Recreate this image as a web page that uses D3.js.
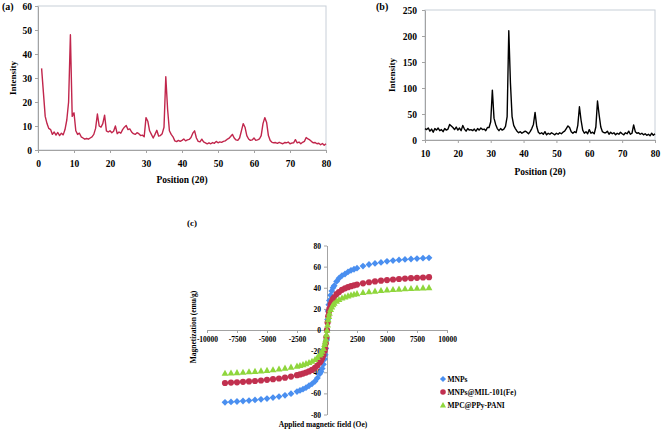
<!DOCTYPE html>
<html><head><meta charset="utf-8">
<script src="https://cdn.jsdelivr.net/npm/d3@7"></script>
<style>
body{margin:0;background:#fff}
svg{display:block}
text{font-family:"Liberation Serif","Times New Roman",serif;font-weight:bold;fill:#000}
</style>
</head><body>
<svg id="chart" width="661" height="430"></svg>
<script>
// ---------- Panel (a): XRD, MIL-101(Fe) composite ----------
const posA = d3.range(1, 80.001, 0.5); // 2θ sampling grid
const intA = [
  34,24,14,11,9,8.5,6.5,7.5,6.2,7.3,
  6,7,6.3,8.5,12.5,20,48,14,15.5,8,
  6.5,7,5.5,5,4.5,4.8,4.5,5,5.5,6.5,
  9,15,10,9.5,11,14.5,8,7.5,8,7.2,
  7.8,10,6.8,7.5,7,8.5,9.5,10.2,8.5,8.8,
  7.5,6.8,6.5,7.2,6.8,6,6.2,5.5,13.5,12,
  8,6.5,5,6.5,8.2,5.8,6,6.8,9.5,30.5,
  17,8,6.5,5.5,3.8,3.5,4,3.6,4,4.6,
  3.8,4.2,4.4,5.2,7,8,5,3.6,3.4,4.5,
  3.4,3,2.6,3,2.6,3.1,2.8,3.6,3,3.4,
  3.2,3.6,3.8,4.4,4.8,5.6,6.5,5,4.2,4,
  5,8,11,9.5,6,4.6,4,4.2,5,4,
  4.2,4.6,6,11,13.5,11.5,6,4,3.2,3,
  3.1,2.8,3.2,2.9,2.6,3.1,3,3.3,2.6,2.9,
  3,4.3,3,3.3,2.6,3.2,3.6,5.2,4.6,4.2,
  3.5,3,3.1,2.6,2.8,2.2,2.7,2,2.6
];
const xTicksA = [0,10,20,30,40,50,60,70,80];
const yTicksA = [0,10,20,30,40,50,60];

// ---------- Panel (b): XRD, Fe3O4 ----------
const posB = d3.range(10, 80.001, 0.5);
const intB = [
  22,20,23,17,21,15,22,19,23,18,
  20,16,22,19,21,30,27,24,20,25,
  19,23,18,28,21,17,22,19,20,18,
  21,17,22,19,23,20,21,18,24,24,
  35,96,42,30,22,18,22,19,21,26,
  45,210,110,45,28,22,17,14,16,13,
  15,17,15,12,16,22,30,53,26,15,
  12,14,11,16,10,13,11,14,12,10,
  13,11,14,12,15,17,22,27,24,16,
  13,16,14,28,64,38,19,13,16,12,
  20,13,15,12,25,75,48,25,16,14,
  14,17,11,15,12,14,10,13,11,15,
  12,10,14,12,17,11,13,29,16,13,
  14,11,13,10,12,9,11,8,13,9,
  12
];
const xTicksB = [10,20,30,40,50,60,70,80];
const yTicksB = [0,50,100,150,200,250];

// ---------- Panel (c): magnetization curves ----------
const fieldOe = [-8500,-8000,-7500,-7000,-6500,-6000,-5500,-5000,-4500,-4000,-3500,-3000,
  -2500,-2250,-2000,-1750,-1500,-1250,-1000,-800,-600,-500,-400,-300,-200,-150,-100,-50,
  0,
  50,100,150,200,300,400,500,600,800,1000,1250,1500,1750,2000,2250,2500,
  3000,3500,4000,4500,5000,5500,6000,6500,7000,7500,8000,8500];
const magMNPs = [-68.5,-68.1,-67.7,-67.2,-66.8,-66.2,-65.6,-64.9,-64,-63,-61.8,-60.3,
  -58.3,-57.2,-56,-54.6,-52.8,-51,-48.5,-45.5,-41.5,-39.5,-36.5,-32.5,-27.5,-23.5,-17.5,-9.5,
  0,
  10,18,24,28,33,37,40,42,46,49,51.5,53,55,56.5,57.5,58.5,
  60.5,62,63,64,65,65.7,66.3,66.8,67.2,67.6,68,68.3];
const magMIL = [-50.2,-49.8,-49.5,-49.1,-48.7,-48.3,-47.8,-47.2,-46.6,-45.9,-45.1,-44.1,
  -42.8,-42.1,-41.3,-40.3,-39.2,-37.8,-35.8,-33.6,-30.7,-29.2,-26.8,-23.7,-19.6,-16.8,-12.6,-6.8,
  0,
  7,13,17,20,24,27,29.5,31,34,36,38,39.5,40.5,41.5,42.3,43,
  44.2,45.2,46,46.7,47.3,47.8,48.3,48.7,49.1,49.4,49.7,50];
const magMPC = [-40.8,-40.5,-40.2,-39.8,-39.4,-39,-38.6,-38.1,-37.5,-36.8,-36,-35,
  -34,-33.4,-32.6,-31.7,-30.6,-29.4,-27.8,-25.8,-23.5,-22,-19.8,-17.2,-13.5,-11.2,-8.5,-4.2,
  0,
  5,10,13,16,19.5,22,24,25.5,27.5,29,30.5,31.5,32.5,33.3,34,34.6,
  35.6,36.4,37,37.6,38.1,38.5,38.9,39.2,39.5,39.8,40,40.3];
const seriesNames = ["MNPs","MNPs@MIL-101(Fe)","MPC@PPy-PANI"];
const xTicksC = [-10000,-7500,-5000,-2500,0,2500,5000,7500,10000];
const yTicksC = [-80,-60,-40,-20,0,20,40,60,80];

// ---------- drawing ----------
const svg = d3.select("#chart");
const AXIS = "#a3a3a3";
const fmt = d => String(d);

function xrdPanel(o){
  const x = d3.scaleLinear().domain(o.xDomain).range([o.left,o.right]);
  const y = d3.scaleLinear().domain(o.yDomain).range([o.bottom,o.top]);
  const g = svg.append("g");
  g.append("rect").attr("x",o.left).attr("y",o.top)
    .attr("width",o.right-o.left).attr("height",o.bottom-o.top)
    .attr("fill","none").attr("stroke","#c8cfd8").attr("stroke-width",1);
  const xa = g.append("g").attr("transform",`translate(0,${o.bottom})`)
    .call(d3.axisBottom(x).tickValues(o.xTicks).tickSize(3).tickSizeOuter(0).tickFormat(fmt));
  xa.select(".domain").attr("stroke",AXIS);
  xa.selectAll(".tick line").attr("stroke",AXIS);
  xa.selectAll("text").attr("y",16.5).attr("dy",null).style("font-size","9.5px");
  const ya = g.append("g").attr("transform",`translate(${o.left},0)`)
    .call(d3.axisLeft(y).tickValues(o.yTicks).tickSize(3).tickSizeOuter(0).tickFormat(fmt));
  ya.select(".domain").attr("stroke",AXIS);
  ya.selectAll(".tick line").attr("stroke",AXIS);
  ya.selectAll("text").attr("x",o.yLabelX).attr("dy","0.34em").style("font-size","9.5px");
  const line = d3.line().x(d=>x(d[0])).y(d=>y(d[1]));
  g.append("path").datum(d3.zip(o.pos,o.val)).attr("d",line)
    .attr("fill","none").attr("stroke",o.color).attr("stroke-width",1.4).attr("stroke-linejoin","round");
  g.append("text").attr("x",(o.left+o.right)/2).attr("y",o.xTitleY).attr("text-anchor","middle")
    .style("font-size","9.5px").text("Position (2θ)");
  g.append("text").attr("transform",`translate(${o.yTitleX},${(o.top+o.bottom)/2}) rotate(-90)`)
    .attr("text-anchor","middle").attr("dy","0.35em").style("font-size","9px").text("Intensity");
  g.append("text").attr("x",o.tagX).attr("y",o.tagY).style("font-size","10px").text(o.tag);
}

xrdPanel({xDomain:[0,80],yDomain:[0,60],left:38,right:326,top:6,bottom:150,
  xTicks:xTicksA,yTicks:yTicksA,pos:posA,val:intA,color:"#c1264c",yLabelX:-6,
  xTitleY:183,yTitleX:13,tag:"(a)",tagX:2,tagY:10});
xrdPanel({xDomain:[10,80],yDomain:[0,250],left:425,right:655,top:10,bottom:140,
  xTicks:xTicksB,yTicks:yTicksB,pos:posB,val:intB,color:"#000",yLabelX:-8,
  xTitleY:175,yTitleX:392,tag:"(b)",tagX:376,tagY:10});

// Panel (c)
(function(){
  const x = d3.scaleLinear().domain([-10000,10000]).range([207,447]);
  const y = d3.scaleLinear().domain([-80,80]).range([414.5,245.5]);
  const g = svg.append("g");
  const xa = g.append("g").attr("transform",`translate(0,${y(0)})`)
    .call(d3.axisBottom(x).tickValues(xTicksC).tickSize(3).tickSizeOuter(0).tickFormat(fmt));
  xa.select(".domain").attr("stroke",AXIS);
  xa.selectAll(".tick line").attr("stroke",AXIS);
  xa.selectAll("text").attr("y",11.5).attr("dy",null).style("font-size","7.5px");
  const ya = g.append("g").attr("transform",`translate(${x(0)},0)`)
    .call(d3.axisLeft(y).tickValues(yTicksC).tickSize(3).tickSizeOuter(0).tickFormat(fmt));
  ya.select(".domain").attr("stroke",AXIS);
  ya.selectAll(".tick line").attr("stroke",AXIS);
  ya.selectAll("text").attr("x",-6).attr("dy","0.34em").style("font-size","7.5px");

  const colors = ["#4a8ff0","#c1304f","#8fd63c"];
  const shapes = [
    r=>`M0,${-r}L${r},0L0,${r}L${-r},0Z`,
    r=>`M${r},0A${r},${r} 0 1,1 ${-r},0A${r},${r} 0 1,1 ${r},0Z`,
    r=>`M0,${-r}L${r},${r*0.8}L${-r},${r*0.8}Z`
  ];
  const sizes = [3.4,3.1,3.4];
  const allSeries = [magMNPs,magMIL,magMPC];
  allSeries.forEach((vals,k)=>{
    g.append("g").selectAll("path").data(d3.zip(fieldOe,vals)).join("path")
      .attr("transform",d=>`translate(${x(d[0])},${y(d[1])})`)
      .attr("d",shapes[k](sizes[k])).attr("fill",colors[k]);
  });
  // legend
  const legY = [379,392,405];
  seriesNames.forEach((n,k)=>{
    g.append("path").attr("transform",`translate(443,${legY[k]})`).attr("d",shapes[k](sizes[k]*0.9)).attr("fill",colors[k]);
    g.append("text").attr("x",447.5).attr("y",legY[k]).attr("dy","0.34em").style("font-size","7.5px").text(n);
  });
  g.append("text").attr("x",x(0)-4).attr("y",427).attr("text-anchor","middle").style("font-size","7.5px")
    .text("Applied magnetic field (Oe)");
  g.append("text").attr("transform",`translate(193,${y(0)-3}) rotate(-90)`).attr("text-anchor","middle")
    .attr("dy","0.35em").style("font-size","7.5px").text("Magnetization (emu/g)");
  g.append("text").attr("x",187).attr("y",226).style("font-size","9px").text("(c)");
})();
</script>
</body></html>
